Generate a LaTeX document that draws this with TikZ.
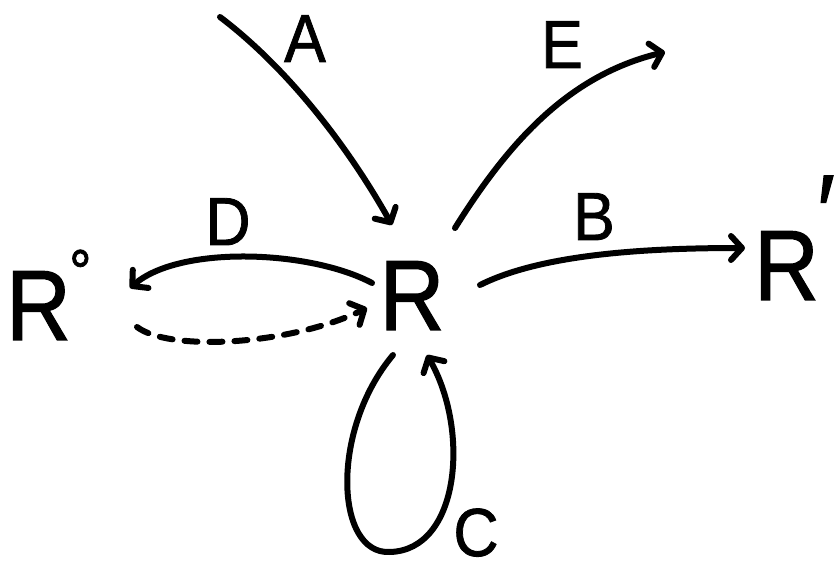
\documentclass[tikz,border=0pt]{standalone}
\usepackage{fontspec}
\setmainfont{Liberation Sans}[BoldFont=Liberation Sans, BoldFeatures={FakeBold=1.2}]
\usetikzlibrary{arrows.meta}
\begin{document}
\begin{tikzpicture}[x=1pt,y=-1pt,
  every node/.style={inner sep=0pt, outer sep=0pt},
  big/.style={font=\fontsize{100}{100}\selectfont\bfseries, anchor=base, xscale=0.9, transform shape},
  lbl/.style={font=\fontsize{68}{68}\selectfont\bfseries, anchor=base, xscale=0.92, transform shape},
  flow/.style={line width=6pt, line cap=round, line join=round,
    -{Straight Barb[length=11pt,width=24pt,line cap=round,line join=round]}},
  back/.style={flow, dash pattern=on 13pt off 12pt}]
\useasboundingbox (0,0) rectangle (836,569);

% the three species
\node[big] (R)  at (412,330) {R};
\node[big, anchor=base west] (R0) at (6,340) {R\hspace{-2pt}\raisebox{47pt}{\fontsize{62}{62}\selectfont °}};
\node[big, anchor=base west] (R1) at (754,300) {R\hspace{-2pt}\raisebox{52pt}{\fontsize{105}{105}\selectfont ′}};

% arrow labels
\node[lbl] (lA) at (305,62) {A};
\node[lbl] (lE) at (562,68) {E};
\node[lbl] (lD) at (228,245) {D};
\node[lbl] (lB) at (594,240) {B};
\node[lbl] (lC) at (476,556) {C};

% end points of the connectors
\coordinate (aS) at (220,17);   \coordinate (aT) at (392,225);
\coordinate (eS) at (455,228);  \coordinate (eT) at (665,52);
\coordinate (bS) at (480,285);  \coordinate (bT) at (745,248);
\coordinate (dS) at (372,283);  \coordinate (dT) at (130,288);
\coordinate (rS) at (137,327);  \coordinate (rT) at (367,308);
\coordinate (cS) at (393,355);  \coordinate (cB) at (390,552);
\coordinate (cT) at (427,355);

% A: incoming
\draw[flow] (aS) .. controls (290,70) and (350,150) .. (aT);
% E: outgoing
\draw[flow] (eS) .. controls (510,140) and (570,75) .. (eT);
% B: R to R'
\draw[flow] (bS) .. controls (540,255) and (640,248) .. (bT);
% D: R to R0
\draw[flow] (dS) .. controls (310,250) and (180,245) .. (dT);
% reverse, dashed: R0 to R
\draw[back] (rS) .. controls (170,352) and (290,345) .. (rT);
% C: loop on R
\draw[flow] (cS) .. controls (330,430) and (335,555) .. (cB)
                .. controls (460,550) and (470,430) .. (cT);
\end{tikzpicture}
\end{document}
